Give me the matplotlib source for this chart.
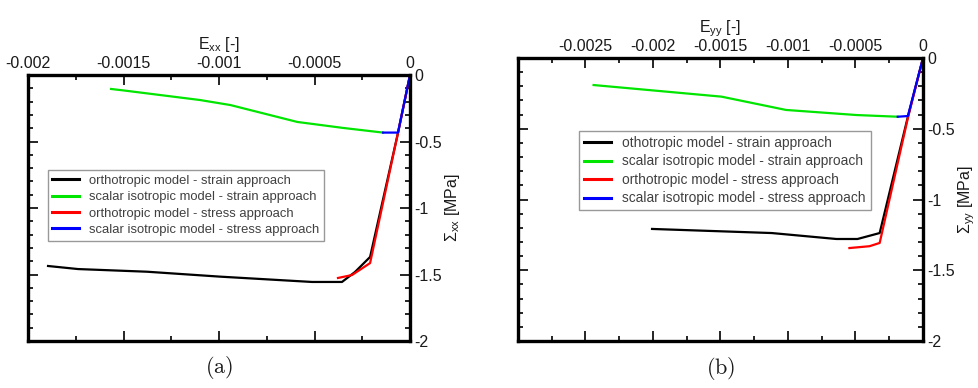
import matplotlib
matplotlib.use("Agg")
import matplotlib.pyplot as plt
from matplotlib.ticker import MultipleLocator

plt.rcParams['font.family'] = ['Liberation Sans', 'DejaVu Sans']
plt.rcParams['mathtext.fontset'] = 'custom'
plt.rcParams['mathtext.rm'] = 'Liberation Sans'
plt.rcParams['mathtext.it'] = 'Liberation Sans:italic'

# ---- panel (a) data: E_xx [-] vs Sigma_xx [MPa]
a_black_x = [-0.001895, -0.001738, -0.001377, -0.000995, -0.000513, -0.000356, -0.000288, -0.000209, -0.000063, 0.0]
a_black_y = [-1.436, -1.459, -1.479, -1.516, -1.556, -1.556, -1.481, -1.368, -0.436, 0.0]
a_green_x = [-0.001565, -0.0015, -0.0011, -0.00094, -0.00059, -0.00035, -0.000141]
a_green_y = [-0.105, -0.116, -0.188, -0.226, -0.353, -0.398, -0.433]
a_red_x = [0.0, -0.000063, -0.000209, -0.000304, -0.000377]
a_red_y = [0.0, -0.436, -1.414, -1.504, -1.526]
a_blue_x = [-0.000141, -0.000063, 0.0]
a_blue_y = [-0.433, -0.433, 0.0]

# ---- panel (b) data: E_yy [-] vs Sigma_yy [MPa]
b_black_x = [-0.002007, -0.00112, -0.000642, -0.000485, -0.000321, -0.000112, 0.0]
b_black_y = [-1.208, -1.237, -1.279, -1.279, -1.237, -0.415, 0.0]
b_green_x = [-0.00244, -0.001493, -0.001015, -0.000493, -0.000187]
b_green_y = [-0.191, -0.273, -0.367, -0.403, -0.415]
b_red_x = [0.0, -0.000112, -0.000321, -0.000396, -0.000545]
b_red_y = [0.0, -0.424, -1.307, -1.33, -1.343]
b_blue_x = [-0.000187, -0.000112, 0.0]
b_blue_y = [-0.415, -0.410, 0.0]

labels_a = ["orthotropic model - strain approach",
            "scalar isotropic model - strain approach",
            "orthotropic model - stress approach",
            "scalar isotropic model - stress approach"]
labels_b = ["othotropic model - strain approach",
            "scalar isotropic model - strain approach",
            "orthotropic model - stress approach",
            "scalar isotropic model - stress approach"]

colors = ["black", "#00e600", "red", "blue"]
TXT = "#1a1a1a"


def fmt_x(xmin):
    def f(v, p):
        if abs(v - xmin) < 1e-9 and xmin < -0.0025:
            return ""
        return f"{v:g}" if abs(v) > 1e-12 else "0"
    return plt.FuncFormatter(f)


def style_axes(ax, xmin, xlabel, ylabel):
    ax.set_xlim(xmin, 0)
    ax.set_ylim(-2, 0)
    ax.xaxis.set_major_locator(MultipleLocator(0.0005))
    ax.xaxis.set_minor_locator(MultipleLocator(0.00025))
    ax.yaxis.set_major_locator(MultipleLocator(0.5))
    ax.yaxis.set_minor_locator(MultipleLocator(0.1))
    ax.xaxis.tick_top()
    ax.xaxis.set_label_position("top")
    ax.yaxis.tick_right()
    ax.yaxis.set_label_position("right")
    ax.tick_params(which="both", direction="in", top=True, bottom=True,
                   left=True, right=True, labeltop=True, labelbottom=False,
                   labelright=True, labelleft=False, colors="black",
                   labelcolor=TXT, labelsize=11.5, width=1.2)
    ax.tick_params(which="major", length=7, pad=3)
    ax.tick_params(which="minor", length=3.5)
    ax.xaxis.set_major_formatter(fmt_x(xmin))
    ax.yaxis.set_major_formatter(plt.FuncFormatter(lambda v, p: f"{v:g}" if abs(v) > 1e-12 else "0"))
    for s in ax.spines.values():
        s.set_linewidth(2.4)
    ax.set_xlabel(xlabel, fontsize=11.5, color=TXT, labelpad=5)
    ax.set_ylabel(ylabel, fontsize=11.5, color=TXT, labelpad=1, rotation=90)


fig = plt.figure(figsize=(9.79, 3.88), dpi=100)
ax_a = fig.add_axes([0.0286, 0.1211, 0.3902, 0.6856])
ax_b = fig.add_axes([0.5291, 0.1211, 0.4137, 0.7294])

for ax, data, labels, anchor, fs in [
    (ax_a, [(a_black_x, a_black_y), (a_green_x, a_green_y), (a_red_x, a_red_y), (a_blue_x, a_blue_y)],
     labels_a, (0.052, 0.643), 9.4),
    (ax_b, [(b_black_x, b_black_y), (b_green_x, b_green_y), (b_red_x, b_red_y), (b_blue_x, b_blue_y)],
     labels_b, (0.151, 0.742), 9.9),
]:
    for (xs, ys), c, lab in zip(data, colors, labels):
        ax.plot(xs, ys, color=c, lw=1.6, label=lab)
    leg = ax.legend(loc="upper left", bbox_to_anchor=anchor, borderaxespad=0,
                    fontsize=fs, frameon=True, fancybox=False, handlelength=2.0,
                    labelspacing=0.33, borderpad=0.35, handletextpad=0.8,
                    labelcolor="#404040")
    leg.get_frame().set_edgecolor("#808080")
    leg.get_frame().set_linewidth(1.0)
    for line in leg.get_lines():
        line.set_linewidth(2.2)

style_axes(ax_a, -0.002, r"E$_{\rm xx}$ [-]", r"$\Sigma_{\rm xx}$ [MPa]")
style_axes(ax_b, -0.003, r"E$_{\rm yy}$ [-]", r"$\Sigma_{\rm yy}$ [MPa]")

for ax, cap in [(ax_a, "(a)"), (ax_b, "(b)")]:
    ax.text(0.5, -0.05, r"$\mathrm{" + cap + "}$", transform=ax.transAxes,
            ha="center", va="top", fontsize=16, math_fontfamily="cm", color=TXT)

fig.savefig("out.png", dpi=100)
